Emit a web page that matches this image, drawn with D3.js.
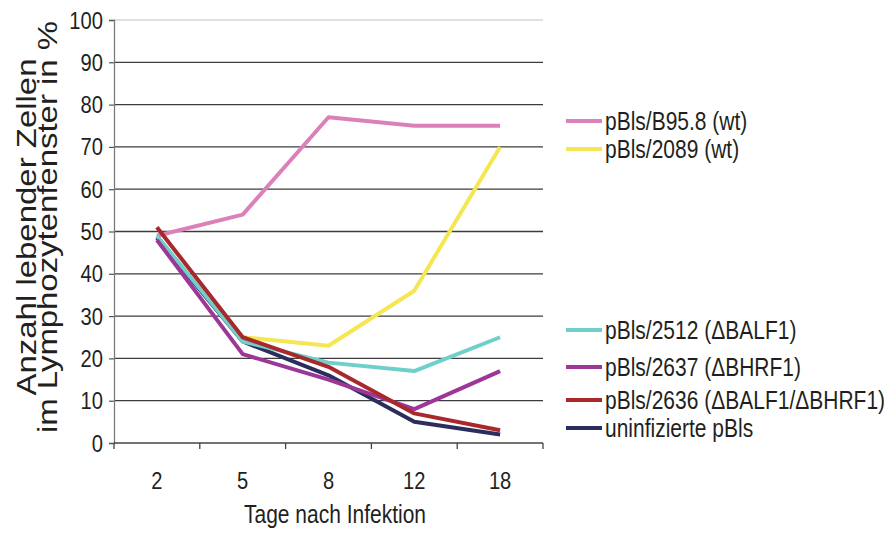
<!DOCTYPE html>
<html>
<head>
<meta charset="utf-8">
<script src="https://cdn.jsdelivr.net/npm/d3@7"></script>
<style>
  html, body { margin: 0; padding: 0; background: #fff; }
  svg { display: block; }
  text { font-family: "Liberation Sans", Arial, Helvetica, sans-serif; fill: #231f20; }
</style>
</head>
<body>
<svg id="chart" width="891" height="534"></svg>
<script>
// Days after infection (categories on the x axis)
const days = ["2", "5", "8", "12", "18"];

// Surviving cells in the lymphocyte gate, % (null = not measured)
const b958   = [49, 54, 77, 75, 75];
const p2089  = [null, 25, 23, 36, 70];
const p2512  = [49, 24, 19, 17, 25];
const p2637  = [48, 21, 15, 8, 17];
const p2636  = [51, 25, 18, 7, 3];
const uninf  = [48.5, 24, 16, 5, 2];

const yTicks = [0, 10, 20, 30, 40, 50, 60, 70, 80, 90, 100];

const seriesNames = [
  "pBls/B95.8 (wt)",
  "pBls/2089 (wt)",
  "pBls/2512 (\u0394BALF1)",
  "pBls/2637 (\u0394BHRF1)",
  "pBls/2636 (\u0394BALF1/\u0394BHRF1)",
  "uninfizierte pBls"
];
const seriesValues = [b958, p2089, p2512, p2637, p2636, uninf];
const seriesColors = ["#dc80b9", "#f5e653", "#6fcfcb", "#9c3797", "#a8282b", "#2b2d5d"];
// paint order of the lines (indices into the arrays above)
const drawOrder = [0, 1, 5, 2, 3, 4];

const svg = d3.select("#chart");
const L = 114, R = 543, T = 20, B = 443;
const NARROW = 0.84; // horizontal squeeze that gives the condensed type

// condensed text: a group positioned at (x, y), squeezed horizontally
function narrowText(parent, x, y, str, size, anchor) {
  const g = parent.append("g").attr("transform", `translate(${x},${y}) scale(${NARROW},1)`);
  g.append("text")
    .attr("font-size", size)
    .attr("text-anchor", anchor || "start")
    .text(str);
  return g;
}

const x = d3.scaleBand().domain(days).range([L, R]).padding(0);
const y = d3.scaleLinear().domain([0, 100]).range([B, T]);

// horizontal gridlines
svg.append("g").selectAll("line")
  .data(yTicks.filter(d => d > 0))
  .join("line")
  .attr("x1", L).attr("x2", R)
  .attr("y1", d => y(d)).attr("y2", d => y(d))
  .attr("stroke", d => d === 100 ? "#d6d6d6" : "#3c3c3c")
  .attr("stroke-width", 1.3);

// y axis line and ticks
const yAxis = d3.axisLeft(y).tickValues(yTicks).tickSize(5).tickFormat("");
const gy = svg.append("g").attr("transform", `translate(${L},0)`).call(yAxis);
gy.select(".domain").attr("stroke", "#7a7a7a").attr("stroke-width", 1.3);
gy.selectAll(".tick line").attr("stroke", "#555").attr("stroke-width", 1.2);
const yLabels = svg.append("g");
yTicks.forEach(t => narrowText(yLabels, 103, y(t) + 8.5, String(t), 24, "end"));

// x axis: ticks at band boundaries, labels at band centres
svg.append("line")
  .attr("x1", L).attr("x2", R).attr("y1", B).attr("y2", B)
  .attr("stroke", "#444").attr("stroke-width", 1.3);
const boundaries = days.map(d => x(d)).concat([x(days[days.length - 1]) + x.bandwidth()]);
svg.append("g").selectAll("line").data(boundaries).join("line")
  .attr("x1", d => d).attr("x2", d => d)
  .attr("y1", B).attr("y2", B + 6)
  .attr("stroke", "#444").attr("stroke-width", 1.3);
const xLabels = svg.append("g");
days.forEach(d => narrowText(xLabels, x(d) + x.bandwidth() / 2, 489, d, 24, "middle"));

// axis titles
narrowText(svg, 335, 523, "Tage nach Infektion", 25, "middle");

const yTitle = svg.append("g").attr("transform", "translate(0,227) rotate(-90)");
yTitle.append("text")
  .attr("x", 0).attr("y", 36)
  .attr("text-anchor", "middle")
  .attr("font-size", 28)
  .attr("textLength", 337).attr("lengthAdjust", "spacingAndGlyphs")
  .text("Anzahl lebender Zellen");
yTitle.append("text")
  .attr("x", 0).attr("y", 57)
  .attr("text-anchor", "middle")
  .attr("font-size", 28)
  .attr("textLength", 412).attr("lengthAdjust", "spacingAndGlyphs")
  .text("im Lymphozytenfenster in %");

// series lines
const line = d3.line()
  .defined(d => d.v !== null)
  .x(d => x(d.day) + x.bandwidth() / 2)
  .y(d => y(d.v));

svg.append("g").selectAll("path")
  .data(drawOrder)
  .join("path")
  .attr("d", i => line(days.map((day, k) => ({ day, v: seriesValues[i][k] }))))
  .attr("fill", "none")
  .attr("stroke", i => seriesColors[i])
  .attr("stroke-width", 4)
  .attr("stroke-linejoin", "round");

// legend
const legendY = [121, 149, 330, 367, 400, 428];
const legend = svg.append("g");
seriesNames.forEach((name, i) => {
  legend.append("line")
    .attr("x1", 566).attr("x2", 602)
    .attr("y1", legendY[i]).attr("y2", legendY[i])
    .attr("stroke", seriesColors[i]).attr("stroke-width", 4);
  narrowText(legend, 605, legendY[i] + 9, name, 25, "start");
});
</script>
</body>
</html>
